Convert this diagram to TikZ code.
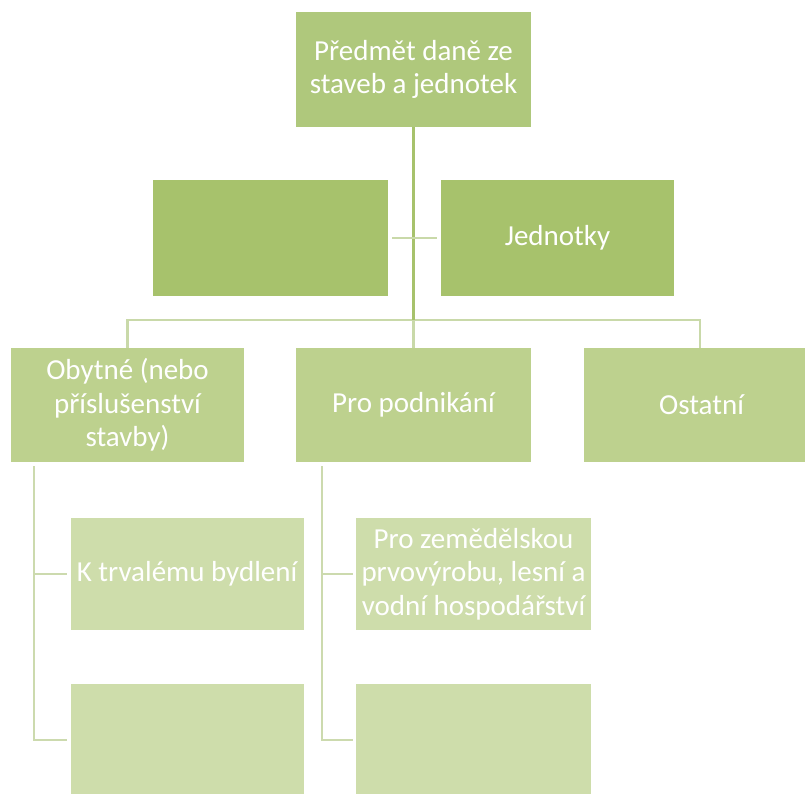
\documentclass[tikz,border=0pt]{standalone}
\usepackage{fontspec}
\setmainfont{Carlito}
\usetikzlibrary{calc}
\definecolor{topgreen}{HTML}{AFC87C}
\definecolor{asgreen}{HTML}{A7C26C}
\definecolor{midgreen}{HTML}{BDD18E}
\definecolor{lowgreen}{HTML}{CEDDAB}
\definecolor{barline}{HTML}{C9D9A9}
\definecolor{lowline}{HTML}{CCDAAE}
\tikzstyle{box}=[rectangle, text=white, align=center, inner sep=0pt,
  font=\fontsize{29}{33.5}\selectfont, minimum width=235pt]
\tikzstyle{topbox}=[box, fill=topgreen, minimum height=115pt]
\tikzstyle{asbox}=[box, fill=asgreen, minimum height=116pt]
\tikzstyle{midbox}=[box, fill=midgreen, minimum height=114pt]
\tikzstyle{lowbox}=[box, fill=lowgreen, minimum width=233pt, minimum height=112pt]
\tikzstyle{mainconn}=[draw=asgreen, line width=3pt]
\tikzstyle{barconn}=[draw=barline, line width=2.5pt]
\tikzstyle{lowconn}=[draw=lowline, line width=2pt]

\begin{document}
\begin{tikzpicture}[x=1pt,y=-1pt]
	\useasboundingbox (0,0) rectangle (805,794);
	% top
	\node[topbox] (predmet) at (413.5,69.5) {Předmět daně ze\\staveb a jednotek};
	\node[asbox] (stavby) at (270.5,238) {};
	\node[asbox, minimum width=233pt] (jednotky) at (557.5,238) {Jednotky};
	% second row
	\node[midbox, minimum width=233pt] (obytne) at (127.5,405) {Obytné (nebo\\příslušenství\\stavby)};
	\node[midbox] (podnikani) at (413.5,405) {Pro podnikání};
	\node[midbox] (ostatni) at (701.5,405) {Ostatní};
	% third row
	\node[lowbox] (bydleni) at (187,574) {K trvalému bydlení};
	\node[lowbox] (obytne2) at (187,740) {};
	\node[lowbox, minimum width=235pt] (zemedel) at (473.5,574) {Pro zemědělskou\\prvovýrobu, lesní a\\vodní hospodářství};
	\node[lowbox, minimum width=235pt] (podnik2) at (473.5,740) {};
	\coordinate (bar) at (413.5,320);

	\draw[barconn] (obytne.north) |- (bar) -| ([xshift=-1.5pt]ostatni.north);
	\draw[mainconn] (predmet.south) -- (bar);
	\draw[barconn] (bar) -- (podnikani.north);
	\draw[barconn, line width=2pt, shorten <=4pt, shorten >=4pt] (stavby.east) -- (jednotky.west);

	\draw[lowconn, shorten <=4pt, shorten >=3pt] ([xshift=23pt]obytne.south west) |- (bydleni.west);
	\draw[lowconn, shorten <=4pt, shorten >=3pt] ([xshift=23pt]obytne.south west) |- (obytne2.west);
	\draw[lowconn, shorten <=4pt, shorten >=3pt] ([xshift=26pt]podnikani.south west) |- (zemedel.west);
	\draw[lowconn, shorten <=4pt, shorten >=3pt] ([xshift=26pt]podnikani.south west) |- (podnik2.west);
\end{tikzpicture}
\end{document}
